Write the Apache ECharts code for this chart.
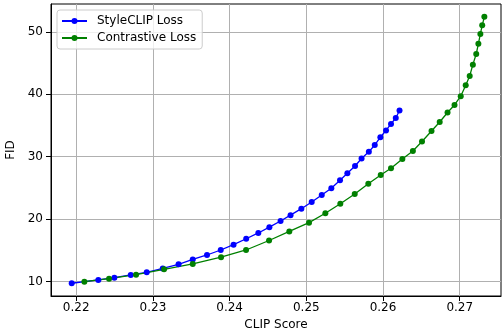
<!DOCTYPE html>
<html><head><meta charset="utf-8">
<script src="https://cdn.jsdelivr.net/npm/echarts@6/dist/echarts.min.js"></script>
<style>html,body{margin:0;padding:0;background:#fff}#c{width:502px;height:331px}</style>
</head><body><div id="c"></div>
<script>
const styleClipX = [0.21941,0.22288,0.22497,0.22711,0.22919,0.23128,0.23334,0.23519,0.23705,0.23884,0.24051,0.24216,0.24374,0.24518,0.24664,0.24794,0.24935,0.25070,0.25201,0.25326,0.25439,0.25535,0.25635,0.25720,0.25815,0.25892,0.25965,0.26039,0.26104,0.26166,0.26215];
const styleClipY = [9.73,10.26,10.62,11.06,11.49,12.10,12.77,13.54,14.26,15.06,15.91,16.86,17.79,18.72,19.71,20.64,21.68,22.75,23.87,24.95,26.23,27.35,28.52,29.72,30.79,31.88,33.13,34.21,35.25,36.21,37.41];
const contrastX = [0.22106,0.22428,0.22780,0.23145,0.23519,0.23888,0.24214,0.24514,0.24778,0.25035,0.25248,0.25443,0.25631,0.25808,0.25970,0.26104,0.26252,0.26389,0.26508,0.26632,0.26739,0.26841,0.26932,0.27013,0.27078,0.27130,0.27171,0.27215,0.27243,0.27269,0.27293,0.27321];
const contrastY = [9.98,10.46,11.11,11.97,12.82,13.91,15.06,16.58,18.03,19.44,20.94,22.48,24.03,25.68,27.08,28.15,29.64,30.92,32.44,34.13,35.57,37.09,38.29,39.70,41.45,42.94,44.75,46.46,48.10,49.67,51.06,52.42];
const xTicks = [0.22,0.23,0.24,0.25,0.26,0.27];
const yTicks = [10,20,30,40,50];
const seriesNames = ['StyleCLIP Loss','Contrastive Loss'];
const xName = 'CLIP Score', yName = 'FID';

const zip = (a,b)=>a.map((v,i)=>[v,b[i]]);
const font = 'DejaVu Sans';
const chart = echarts.init(document.getElementById('c'), null, {renderer:'canvas'});
chart.setOption({
  animation:false,
  textStyle:{fontFamily:font},
  grid:{left:51,right:1,top:4,bottom:35,containLabel:false,outerBoundsMode:'none',show:true,borderColor:'#000',borderWidth:1,backgroundColor:'transparent'},
  legend:{
    left:57, top:10, orient:'vertical', itemWidth:25, itemHeight:7.5, itemGap:5,
    padding:[5,6,5,4], backgroundColor:'rgba(255,255,255,0.8)', borderColor:'#cccccc', borderWidth:1, borderRadius:3,
    textStyle:{fontFamily:font,fontSize:12,color:'#000',padding:[0,0,0,5]},
    data:seriesNames
  },
  xAxis:{
    type:'value', min:0.21671, max:0.27538,
    name:xName, nameLocation:'middle', nameGap:23, nameTextStyle:{fontFamily:font,fontSize:12,color:'#000'},
    axisLine:{lineStyle:{color:'#000',width:1}},
    axisTick:{show:true,inside:false,length:5,lineStyle:{color:'#000'},customValues:xTicks},
    axisLabel:{customValues:xTicks,fontFamily:font,fontSize:12,color:'#000',margin:6,formatter:v=>v.toFixed(2)},
    splitLine:{show:true,lineStyle:{color:'#b0b0b0',width:1}}
  },
  yAxis:{
    type:'value', min:7.69, max:54.47,
    name:yName, nameLocation:'middle', nameGap:33, nameRotate:90, nameTextStyle:{fontFamily:font,fontSize:12,color:'#000'},
    axisLine:{show:true,lineStyle:{color:'#000',width:1}},
    axisTick:{show:true,inside:false,length:5,lineStyle:{color:'#000'},customValues:yTicks},
    axisLabel:{customValues:yTicks,fontFamily:font,fontSize:12,color:'#000',margin:8},
    splitLine:{show:true,lineStyle:{color:'#b0b0b0',width:1}}
  },
  series:[
    {name:seriesNames[0],type:'line',data:zip(styleClipX,styleClipY),symbol:'circle',symbolSize:6,
     itemStyle:{color:'#0000ff'},lineStyle:{color:'#0000ff',width:1.3}},
    {name:seriesNames[1],type:'line',data:zip(contrastX,contrastY),symbol:'circle',symbolSize:6,
     itemStyle:{color:'#008000'},lineStyle:{color:'#008000',width:1.3}}
  ]
});
</script></body></html>
